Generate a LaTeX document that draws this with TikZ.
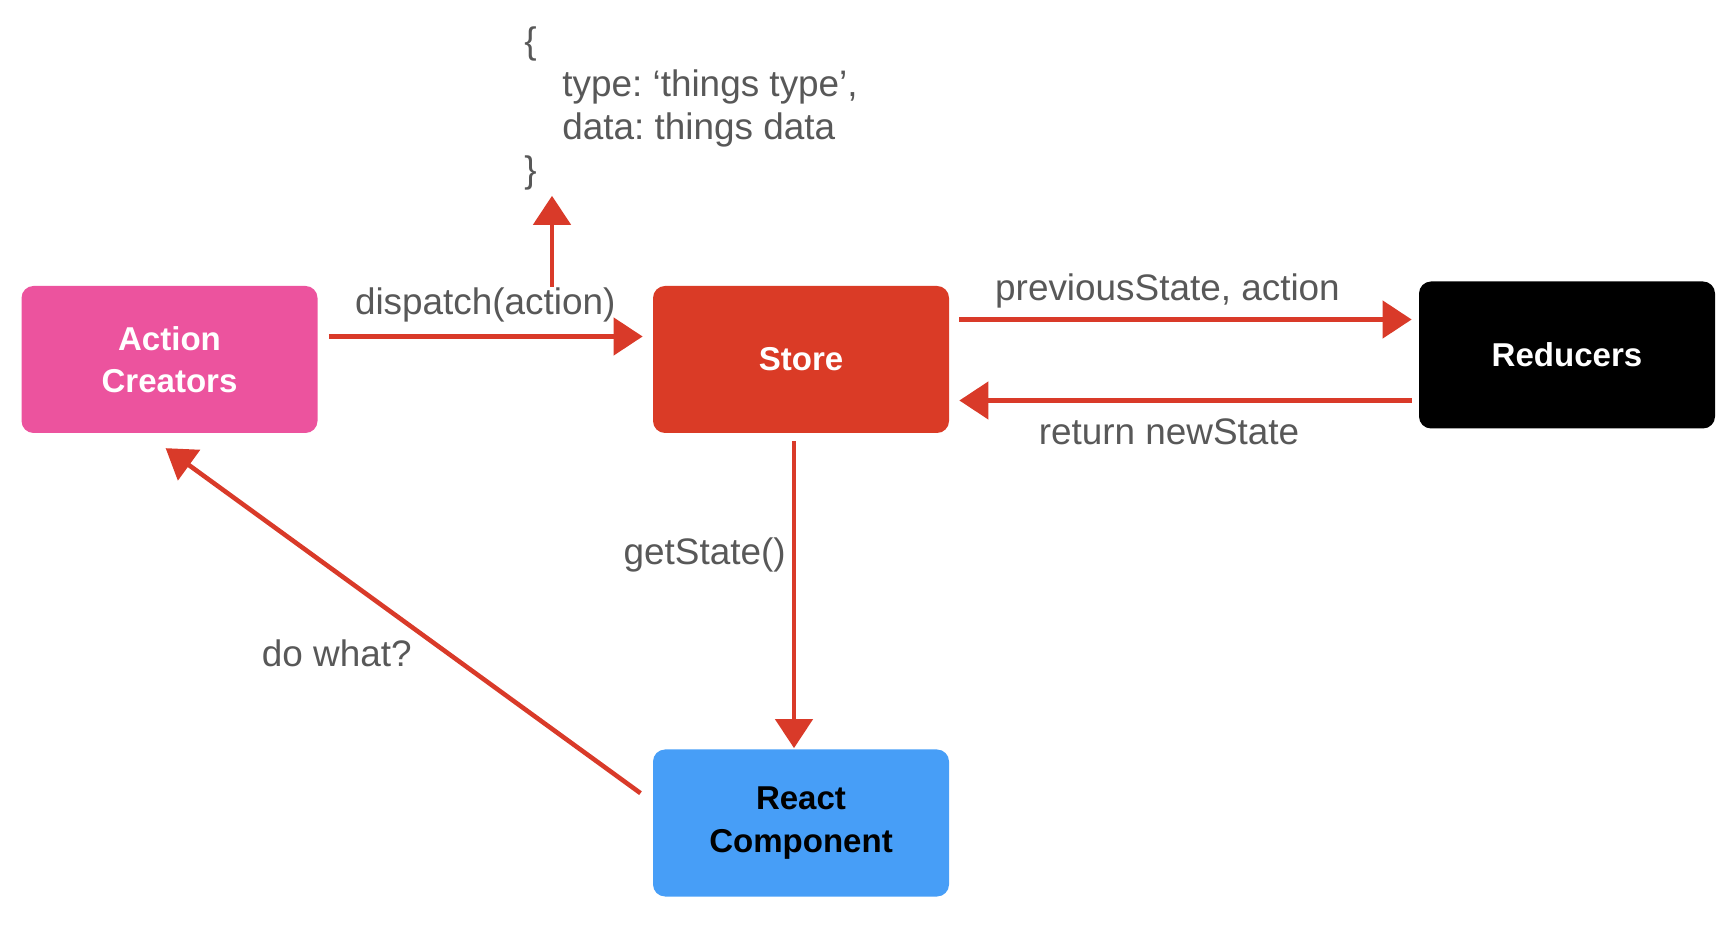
\documentclass[tikz,border=0pt]{standalone}
\usepackage{fontspec}
\setmainfont{Liberation Sans}
\frenchspacing
\usetikzlibrary{arrows.meta,positioning}
\definecolor{acpink}{HTML}{EC539E}
\definecolor{storered}{HTML}{DA3B26}
\definecolor{reactblue}{HTML}{479EF7}
\definecolor{arrowred}{HTML}{D93A29}
\definecolor{labelgray}{HTML}{585858}
\tikzset{
	box/.style={rounded corners=0.24cm, minimum width=5.92cm, minimum height=2.94cm, align=center, text=white, font=\fontsize{18.8}{24}\selectfont\bfseries},
	flow/.style={arrowred, line width=2.6pt, -{Triangle[length=0.58cm,width=0.74cm]}},
	lbl/.style={text=labelgray, inner sep=0pt, font=\fontsize{21}{24.6}\selectfont}
}
\begin{document}
\begin{tikzpicture}
	\useasboundingbox (0,0) rectangle (34.64,18.56);
	% boxes
	\node [box, fill=acpink] (ac) at (3.39,11.37) {Action\\Creators};
	\node [box, fill=storered] (store) at (16.02,11.37) {Store};
	\node [box, fill=black] (red) at (31.34,11.46) {Reducers};
	\node [box, fill=reactblue, text=black] (rc) at (16.02,2.10) {React\\Component};
	
	% the action object
	\node [lbl, align=left, anchor=north west] (json) at (10.48,18.04) {\{\\\hspace*{0.76cm}type: ‘things type’,\\\hspace*{0.76cm}data: things data\\\}};
	
	\draw [flow, shorten <=0.22cm, shorten >=0.2cm] ([yshift=0.46cm]ac.east) -- node [lbl, above=0.24cm] (dlabel) {dispatch(action)} ([yshift=0.46cm]store.west);
	\coordinate (up) at (11.04,12.82);
	\draw [flow, shorten >=0.1cm] (up) -- (up |- json.south);
	
	\draw [flow, shorten <=0.2cm, shorten >=0.14cm] ([yshift=0.8cm]store.east) -- node [lbl, above=0.18cm, xshift=-0.33cm] (plabel) {previousState, action} ([yshift=0.8cm]store.east -| red.west);
	\draw [flow, shorten <=0.14cm, shorten >=0.2cm] ([yshift=-0.82cm]store.east -| red.west) -- node [lbl, below=0.32cm, xshift=-0.3cm] (rlabel) {return newState} ([yshift=-0.82cm]store.east);
	
	\draw [flow, shorten <=0.16cm, shorten >=0.02cm] ([xshift=-0.14cm]store.south) -- node [lbl, pos=0.385, left=0.12cm] (glabel) {getState()} ([xshift=-0.14cm]rc.north);
	
	\draw [flow, shorten <=0.3cm, shorten >=0.3cm] ([yshift=0.42cm]rc.west) -- node [lbl, pos=0.41, left=0.68cm] (wlabel) {do what?} ([xshift=-0.32cm,yshift=-0.12cm]ac.south);
\end{tikzpicture}
\end{document}
